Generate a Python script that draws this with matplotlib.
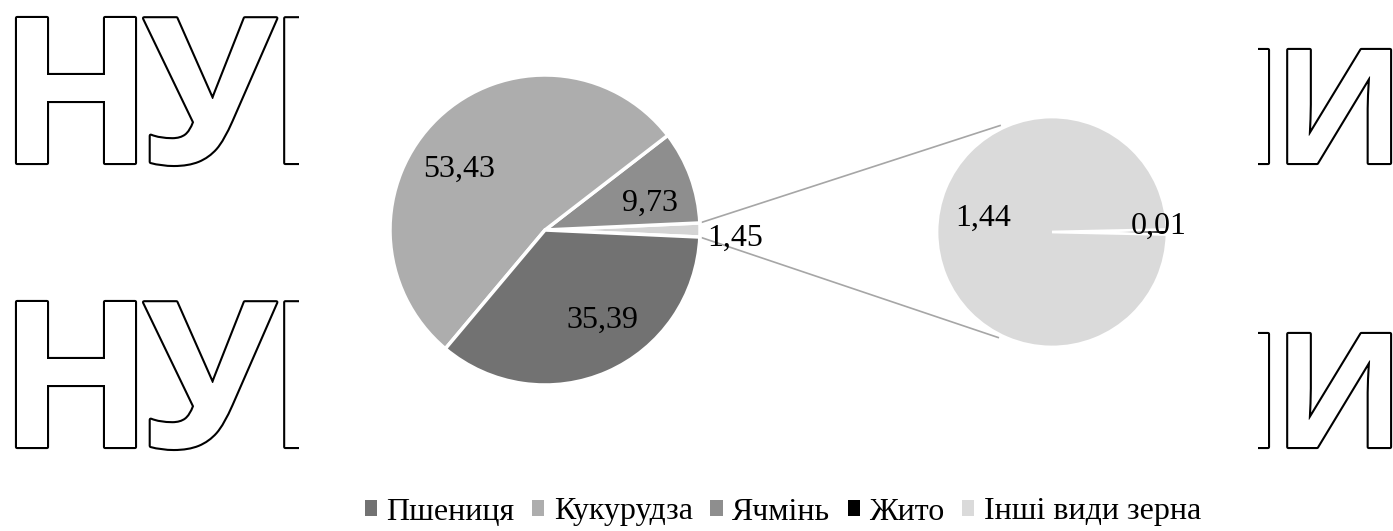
import matplotlib.pyplot as plt
import matplotlib.patheffects as pe
from matplotlib.patches import Rectangle
import numpy as np

# main pie (counter-clockwise from the exploded "other" slice)
main_names = ["Інші разом", "Ячмінь", "Кукурудза", "Пшениця"]
main_values = [1.45, 9.73, 53.43, 35.39]
main_labels = ["1,45", "9,73", "53,43", "35,39"]
main_colors = ["#d4d4d4", "#8e8e8e", "#adadad", "#727272"]

# secondary pie
sub_names = ["Жито", "Інші види зерна"]
sub_values = [0.01, 1.44]
sub_labels = ["0,01", "1,44"]
sub_colors = ["#000000", "#dadada"]

legend_order = ["Пшениця", "Кукурудза", "Ячмінь", "Жито", "Інші види зерна"]

W, H = 1393, 531
fig = plt.figure(figsize=(W / 100, H / 100), dpi=100)
ax = fig.add_axes([0, 0, 1, 1])
ax.set_xlim(0, W)
ax.set_ylim(0, H)
ax.axis("off")

# watermark letters behind the chart area
wm = dict(family="Open Sans", weight="bold", color="white", ha="left", va="baseline",
          zorder=0.1, path_effects=[pe.withStroke(linewidth=3, foreground="black")])
for yb in (H - 163, H - 447):
    for x, ch in ((-1.5, "Н"), (144, "У"), (267, "Б")):
        ax.text(x, yb, ch, fontsize=146, **wm)
    for x, ch in ((1161, "Н"), (1274, "И")):
        ax.text(x, yb, ch, fontsize=114, **wm)
ax.add_patch(Rectangle((299, 0), 1258 - 299, H, facecolor="white", edgecolor="none", zorder=0.5))

serif = "Liberation Serif"

# main pie
c1, r1 = (545, H - 230), 155
start1 = -main_values[0] / sum(main_values) * 360 / 2
w1, _ = ax.pie(main_values, colors=main_colors, center=c1, radius=r1, startangle=start1,
               counterclock=True, explode=[0.02, 0, 0, 0], frame=True,
               wedgeprops=dict(edgecolor="white", linewidth=2.5, zorder=2))
# label placement: (distance in radii, angle shift from slice middle)
place1 = [(1.23, -2.5), (0.70, -6.0), (0.68, 10.9), (0.69, 8.6)]
for w, lab, (d, da) in zip(w1, main_labels, place1):
    a = np.deg2rad((w.theta1 + w.theta2) / 2 + da)
    ax.text(c1[0] + d * r1 * np.cos(a), c1[1] + d * r1 * np.sin(a), lab, family=serif,
            fontsize=23, ha="center", va="center", zorder=3)

# secondary pie
c2, r2 = (1052, H - 232), 115
start2 = -sub_values[0] / sum(sub_values) * 360 / 2
w2, _ = ax.pie(sub_values, colors=sub_colors, center=c2, radius=r2, startangle=start2,
               counterclock=True, frame=True,
               wedgeprops=dict(edgecolor="white", linewidth=2, zorder=2))
place2 = [(0.93, 3.0), (0.61, -11.0)]
for w, lab, (d, da) in zip(w2, sub_labels, place2):
    a = np.deg2rad((w.theta1 + w.theta2) / 2 + da)
    ax.text(c2[0] + d * r2 * np.cos(a), c2[1] + d * r2 * np.sin(a), lab, family=serif,
            fontsize=23, ha="center", va="center", zorder=3)

# connector lines
ew = w1[0]
for th1, th2 in ((ew.theta2, 116), (ew.theta1, -117)):
    p1 = (ew.center[0] + r1 * np.cos(np.deg2rad(th1)), ew.center[1] + r1 * np.sin(np.deg2rad(th1)))
    p2 = (c2[0] + r2 * 1.03 * np.cos(np.deg2rad(th2)), c2[1] + r2 * 1.03 * np.sin(np.deg2rad(th2)))
    ax.plot([p1[0], p2[0]], [p1[1], p2[1]], color="#a6a6a6", lw=1.2, zorder=1.5)

ax.set_xlim(0, W)
ax.set_ylim(0, H)
ax.set_aspect("equal")
ax.axis("off")

fills = dict(zip(main_names + sub_names, [w.get_facecolor() for w in list(w1) + list(w2)]))
proxies = [Rectangle((0, 0), 1, 1, facecolor=fills[n], edgecolor="none") for n in legend_order]
ax.legend(proxies, legend_order, loc="center",
          bbox_to_anchor=(783 / W, (H - 512) / H), ncol=5, frameon=False,
          prop=dict(family=serif, size=23), handlelength=0.38, handleheight=0.38,
          handletextpad=0.3, columnspacing=0.55, borderpad=0, borderaxespad=0)

fig.savefig("out.png", dpi=100, facecolor="white")
